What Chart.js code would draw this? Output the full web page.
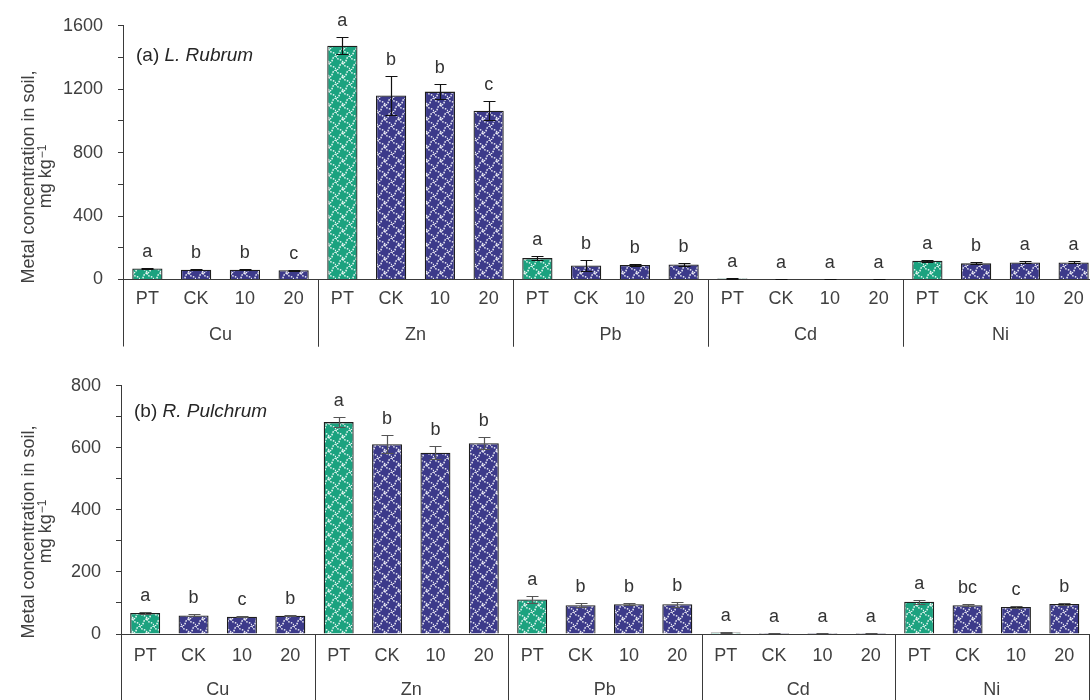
<!DOCTYPE html>
<html>
<head>
<meta charset="utf-8">
<script src="https://cdn.jsdelivr.net/npm/chart.js@4.4.1/dist/chart.umd.min.js"></script>
<style>
  html, body { margin: 0; padding: 0; background: #fff; width: 1090px; height: 700px; overflow: hidden; }
  canvas { position: absolute; left: 0; }
  #chartTop { top: 0; }
  #chartBottom { top: 360px; }
</style>
</head>
<body>
<canvas id="chartTop" width="1110" height="360"></canvas>
<canvas id="chartBottom" width="1090" height="340"></canvas>
<script>
// ============================================================
// DATA
// ============================================================

const metals = ['Cu', 'Zn', 'Pb', 'Cd', 'Ni'];
const treatments = ['PT', 'CK', '10', '20'];

// (a) L. Rubrum
const rubrumMeans = [70, 62, 62, 58, 1474, 1160, 1185, 1065, 135, 88, 92, 95, 6, 3, 3, 3, 118, 102, 108, 108];
const rubrumErrors = [5, 4, 4, 3, 55, 125, 48, 62, 14, 32, 4, 12, 2, 1, 1, 1, 8, 6, 7, 6];
const rubrumLetters = ['a', 'b', 'b', 'c', 'a', 'b', 'b', 'c', 'a', 'b', 'b', 'b', 'a', 'a', 'a', 'a', 'a', 'b', 'a', 'a'];

// (b) R. Pulchrum
const pulchrumMeans = [68, 60, 56, 59, 683, 612, 584, 615, 111, 93, 96, 96, 5, 3, 3, 3, 104, 93, 87, 97];
const pulchrumErrors = [2, 3, 2, 2, 15, 28, 21, 20, 12, 7, 4, 8, 1, 1, 1, 1, 7, 3, 3, 3];
const pulchrumLetters = ['a', 'b', 'c', 'b', 'a', 'b', 'b', 'b', 'a', 'b', 'b', 'b', 'a', 'a', 'a', 'a', 'a', 'bc', 'c', 'b'];

const FONT = '"Liberation Sans", Arial, sans-serif';
const TEXT = '#404040';
const AXIS = '#3a3a3a';

// ============================================================
// HELPERS
// ============================================================

// white dotted ogee trellis on a solid fill
function makePattern(base) {
  const s = 14, h = s / 2, k = 3.2;
  const c = document.createElement('canvas');
  c.width = s; c.height = s;
  const g = c.getContext('2d');
  g.fillStyle = base;
  g.fillRect(0, 0, s, s);
  g.strokeStyle = 'rgba(255,255,255,0.92)';
  g.lineWidth = 1.4;
  g.setLineDash([1.6, 1.2]);

  const segs = [
    [0, 0, h, h], [h, h, s, s],
    [s, 0, h, h], [h, h, 0, s]
  ];
  segs.forEach(([x0, y0, x1, y1]) => {
    const dx = x1 - x0, dy = y1 - y0;
    const len = Math.hypot(dx, dy);
    const nx = -dy / len * k, ny = dx / len * k;
    g.beginPath();
    g.moveTo(x0, y0);
    g.bezierCurveTo(
      x0 + dx / 3 + nx, y0 + dy / 3 + ny,
      x0 + dx * 2 / 3 - nx, y0 + dy * 2 / 3 - ny,
      x1, y1
    );
    g.stroke();
  });
  return g.createPattern(c, 'repeat');
}

const greenFill = makePattern('#1ba27f');
const navyFill = makePattern('#3c3a8a');

const labels = [];
metals.forEach(() => treatments.forEach(t => labels.push(t)));
const fills = labels.map(t => (t === 'PT' ? greenFill : navyFill));

function overlayPlugin(cfg) {
  return {
    id: 'overlay',
    afterDatasetsDraw(chart) {
      const { ctx, chartArea } = chart;
      const x = chart.scales.x;
      const y = chart.scales.y;
      const meta = chart.getDatasetMeta(0);

      ctx.save();
      // error bars
      ctx.strokeStyle = cfg.errColor;
      ctx.lineWidth = 1.2;
      meta.data.forEach((bar, i) => {
        const v = cfg.means[i], e = cfg.errors[i];
        const yt = Math.round(y.getPixelForValue(v + e)) + 0.5;
        const yb = Math.round(y.getPixelForValue(Math.max(v - e, 0))) + 0.5;
        const bx = Math.round(bar.x) + 0.5;
        ctx.beginPath();
        ctx.moveTo(bx, yt); ctx.lineTo(bx, yb);
        ctx.moveTo(bx - 6, yt); ctx.lineTo(bx + 6, yt);
        ctx.moveTo(bx - 6, yb); ctx.lineTo(bx + 6, yb);
        ctx.stroke();
      });

      // significance letters
      ctx.fillStyle = '#333';
      ctx.font = '18px ' + FONT;
      ctx.textAlign = 'center';
      ctx.textBaseline = 'alphabetic';
      meta.data.forEach((bar, i) => {
        const yt = y.getPixelForValue(cfg.means[i] + cfg.errors[i]);
        ctx.fillText(cfg.letters[i], bar.x, yt - 11);
      });

      // group separators + metal names
      const slot = x.getPixelForValue(1) - x.getPixelForValue(0);
      const base = chartArea.bottom;
      ctx.strokeStyle = AXIS;
      ctx.lineWidth = 1;
      ctx.fillStyle = TEXT;
      ctx.textBaseline = 'middle';
      metals.forEach((m, g) => {
        const left = x.getPixelForValue(g * treatments.length) - slot / 2;
        const right = left + slot * treatments.length;
        [left, right].forEach(px => {
          const sx = Math.round(px) + 0.5;
          ctx.beginPath();
          ctx.moveTo(sx, base);
          ctx.lineTo(sx, base + cfg.sepLength);
          ctx.stroke();
        });
        ctx.fillText(m, (left + right) / 2, base + 56);
      });

      // panel caption
      ctx.textAlign = 'left';
      ctx.fillStyle = '#262626';
      ctx.font = '19px ' + FONT;
      const px = chartArea.left + 13;
      const py = chartArea.top + cfg.captionDy;
      ctx.fillText(cfg.tag + ' ', px, py);
      const w = ctx.measureText(cfg.tag + ' ').width;
      ctx.font = 'italic 19px ' + FONT;
      ctx.fillText(cfg.species, px + w, py);

      // y axis title (two lines, rotated)
      ctx.save();
      ctx.translate(0, cfg.titleY);
      ctx.rotate(-Math.PI / 2);
      ctx.fillStyle = TEXT;
      ctx.textAlign = 'center';
      ctx.textBaseline = 'alphabetic';
      ctx.font = '18px ' + FONT;
      ctx.fillText('Metal concentration in soil,', 0, cfg.titleX1);
      const unit = 'mg kg';
      const sup = '\u22121';
      const uw = ctx.measureText(unit).width;
      ctx.font = '12px ' + FONT;
      const sw = ctx.measureText(sup).width;
      const start = -(uw + sw) / 2;
      ctx.textAlign = 'left';
      ctx.fillText(sup, start + uw + 1, cfg.titleX2 - 5);
      ctx.font = '18px ' + FONT;
      ctx.fillText(unit, start, cfg.titleX2);
      ctx.restore();

      ctx.restore();
    }
  };
}

function buildChart(canvasId, cfg) {
  const canvas = document.getElementById(canvasId);
  return new Chart(canvas.getContext('2d'), {
    type: 'bar',
    data: {
      labels,
      datasets: [{
        data: cfg.means,
        backgroundColor: fills,
        borderColor: '#1e1e1e',
        borderWidth: 1.3,
        barPercentage: 0.62,
        categoryPercentage: 1
      }]
    },
    options: {
      responsive: false,
      animation: false,
      devicePixelRatio: 1,
      layout: { padding: { left: 0, right: cfg.padRight, top: cfg.padTop, bottom: 0 } },
      plugins: { legend: { display: false }, tooltip: { enabled: false } },
      scales: {
        x: {
          grid: { display: false, drawTicks: false },
          border: { display: true, color: AXIS, width: 1 },
          ticks: { color: TEXT, font: { family: FONT, size: 18 }, padding: cfg.tickPad, maxRotation: 0, autoSkip: false },
          afterFit: s => { s.height = cfg.xHeight; }
        },
        y: {
          min: 0,
          max: cfg.yMax,
          grid: { drawOnChartArea: false, drawTicks: true, tickLength: 5, color: AXIS },
          border: { display: true, color: AXIS, width: 1 },
          ticks: {
            stepSize: cfg.yStep / 2,
            color: TEXT,
            padding: 15,
            font: { family: FONT, size: 18 },
            callback: v => (v % cfg.yStep === 0 ? v : '')
          },
          afterFit: s => { s.width = cfg.yWidth; }
        }
      }
    },
    plugins: [overlayPlugin(cfg)]
  });
}

// ============================================================
// RENDER
// ============================================================

buildChart('chartTop', {
  means: rubrumMeans, errors: rubrumErrors, letters: rubrumLetters,
  tag: '(a)', species: 'L. Rubrum',
  yMax: 1600, yStep: 400,
  yWidth: 123, padTop: 22, padRight: 12, xHeight: 80.5,
  tickPad: 9, sepLength: 67, captionDy: 30,
  errColor: '#111', titleY: 177, titleX1: 34, titleX2: 51
});

buildChart('chartBottom', {
  means: pulchrumMeans, errors: pulchrumErrors, letters: pulchrumLetters,
  tag: '(b)', species: 'R. Pulchrum',
  yMax: 800, yStep: 200,
  yWidth: 121, padTop: 18, padRight: 1.5, xHeight: 66,
  tickPad: 11, sepLength: 70, captionDy: 26,
  errColor: '#555', titleY: 172, titleX1: 34, titleX2: 51
});
</script>
</body>
</html>
